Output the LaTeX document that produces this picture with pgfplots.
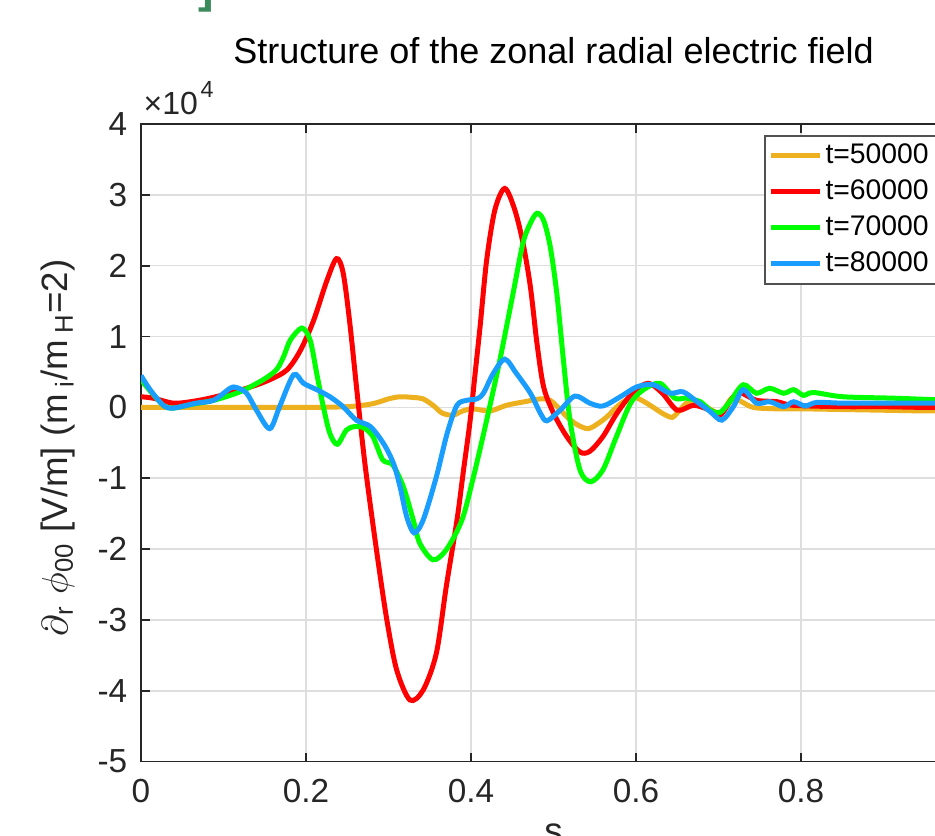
\documentclass[border=0pt]{standalone}
\usepackage{fontspec}
\setmainfont{Liberation Sans}
\usepackage{pgfplots}
\pgfplotsset{compat=1.18}
\definecolor{cOrange}{RGB}{237,177,32}
\definecolor{cRed}{RGB}{255,0,0}
\definecolor{cGreen}{RGB}{0,255,0}
\definecolor{cBlue}{RGB}{25,158,255}
\definecolor{cAxis}{RGB}{38,38,38}
\definecolor{cGrid}{RGB}{222,222,222}
\definecolor{cHead}{RGB}{58,138,92}
\begin{document}
\begin{tikzpicture}
\useasboundingbox (0,0) rectangle (280.5pt,250.8pt);
\clip (0,0) rectangle (280.5pt,250.8pt);
\begin{axis}[
  at={(42.3pt,22.3pt)}, anchor=south west,
  scale only axis, width=247.5pt, height=191.3pt,
  xmin=0, xmax=1, ymin=-5, ymax=4,
  xtick={0,0.2,0.4,0.6,0.8,1},
  xticklabels={0,0.2,0.4,0.6,0.8,1},
  ytick={-5,-4,-3,-2,-1,0,1,2,3,4},
  yticklabels={-5,-4,-3,-2,-1,0,1,2,3,4},
  tick label style={font=\fontsize{10}{12}\selectfont, text=cAxis},
  xticklabel style={yshift=-1.6pt},
  yticklabel style={xshift=-0.6pt},
  grid=major,
  major grid style={cGrid, line width=0.45pt},
  axis line style={cAxis, line width=0.5pt},
  tick style={cAxis, line width=0.5pt},
  major tick length=2.7pt,
  title={Structure of the zonal radial electric field},
  title style={at={(axis description cs:0.5,1)}, anchor=base, yshift=12pt, font=\fontsize{10.8}{13}\selectfont},
  ylabel={$\partial$\textsubscript{r}\;$\phi$\textsubscript{00} [V/m] (m\,\textsubscript{i}/m\,\textsubscript{H}=2)},
  ylabel style={at={(axis description cs:-0.1006,0.492)}, anchor=center, font=\fontsize{11}{13}\selectfont, text=cAxis},
  xlabel={s},
  xlabel style={at={(axis description cs:0.5,0)}, anchor=base, yshift=-24.6pt, font=\fontsize{11}{13}\selectfont, text=cAxis},
  legend style={at={(axis description cs:0.7552,0.9828)}, anchor=north west,
    draw=cAxis!80, line width=0.5pt, fill=white,
    font=\fontsize{8.5}{10}\selectfont, inner sep=1pt, row sep=0.8pt,
    nodes={inner sep=1pt, text height=6.3pt, text depth=1.7pt}},
  legend cell align=left,
  legend image code/.code={\draw[#1, line width=1.5pt] (0pt,0pt) -- (14.7pt,0pt);},
  every axis plot/.append style={line width=1.5pt, smooth, tension=0.5},
]
\addplot[cOrange] coordinates {
(0,0) (0.05,0) (0.1,0) (0.15,0) (0.2,0) (0.25,0.01) (0.28,0.05) (0.3,0.12) (0.314,0.15) (0.33,0.14) (0.342,0.12) (0.355,0.02) (0.365,-0.08) (0.378,-0.11) (0.39,-0.05) (0.402,-0.02) (0.423,-0.05) (0.443,0.03) (0.465,0.08) (0.484,0.12) (0.496,0.1) (0.508,-0.03) (0.516,-0.13) (0.528,-0.24) (0.542,-0.3) (0.555,-0.22) (0.565,-0.13) (0.578,0.02) (0.589,0.11) (0.599,0.14) (0.61,0.08) (0.621,0) (0.633,-0.09) (0.644,-0.14) (0.653,-0.04) (0.663,0.07) (0.681,0.03) (0.702,-0.08) (0.716,0.13) (0.728,0.08) (0.742,0) (0.77,-0.02) (0.8,-0.02) (0.85,-0.03) (0.9,-0.04) (0.95,-0.05) (1.0,-0.05)
};
\addlegendentry{t=50000}
\addplot[cRed] coordinates {
(0,0.15) (0.015,0.13) (0.039,0.06) (0.06,0.08) (0.087,0.14) (0.128,0.27) (0.156,0.39) (0.177,0.53) (0.193,0.8) (0.209,1.22) (0.225,1.78) (0.237,2.1) (0.245,1.9) (0.253,1.2) (0.262,0.2) (0.272,-0.85) (0.286,-2.06) (0.298,-3.0) (0.31,-3.71) (0.326,-4.13) (0.342,-3.99) (0.358,-3.47) (0.37,-2.53) (0.383,-1.59) (0.391,-0.88) (0.399,-0.18) (0.405,0.48) (0.411,1.14) (0.419,2.08) (0.429,2.79) (0.441,3.09) (0.453,2.79) (0.463,2.32) (0.472,1.7) (0.48,0.9) (0.488,0.29) (0.5,-0.08) (0.516,-0.41) (0.532,-0.63) (0.544,-0.62) (0.56,-0.41) (0.577,-0.08) (0.597,0.22) (0.615,0.34) (0.632,0.2) (0.65,-0.04) (0.67,0.03) (0.69,-0.04) (0.702,-0.11) (0.718,0.15) (0.728,0.2) (0.746,0.1) (0.771,0.08) (0.79,0.03) (0.85,0.01) (0.9,0.01) (0.95,0.0) (1,0)
};
\addlegendentry{t=60000}
\addplot[cGreen] coordinates {
(0,0.39) (0.012,0.22) (0.027,0.03) (0.039,-0.01) (0.06,0.04) (0.088,0.1) (0.12,0.22) (0.148,0.39) (0.164,0.53) (0.173,0.72) (0.181,0.95) (0.195,1.12) (0.205,0.95) (0.213,0.48) (0.221,0.01) (0.229,-0.37) (0.238,-0.52) (0.249,-0.32) (0.259,-0.27) (0.27,-0.29) (0.281,-0.41) (0.293,-0.74) (0.305,-0.81) (0.318,-1.12) (0.33,-1.59) (0.338,-1.92) (0.354,-2.15) (0.37,-2.01) (0.389,-1.59) (0.403,-0.98) (0.419,-0.18) (0.435,0.67) (0.451,1.61) (0.463,2.32) (0.472,2.6) (0.48,2.74) (0.488,2.64) (0.496,2.27) (0.504,1.61) (0.512,0.67) (0.52,-0.18) (0.532,-0.88) (0.545,-1.05) (0.56,-0.88) (0.575,-0.45) (0.593,0.05) (0.609,0.25) (0.629,0.34) (0.647,0.13) (0.661,0.13) (0.678,0.08) (0.69,-0.04) (0.702,-0.07) (0.715,0.1) (0.73,0.32) (0.746,0.2) (0.762,0.27) (0.779,0.2) (0.791,0.25) (0.803,0.17) (0.815,0.21) (0.851,0.15) (0.912,0.13) (0.96,0.11) (1,0.1)
};
\addlegendentry{t=70000}
\addplot[cBlue] coordinates {
(0,0.45) (0.011,0.25) (0.027,0.03) (0.039,-0.01) (0.067,0.06) (0.088,0.1) (0.108,0.27) (0.116,0.28) (0.128,0.2) (0.14,-0.04) (0.156,-0.3) (0.168,0.01) (0.185,0.46) (0.197,0.34) (0.213,0.25) (0.229,0.15) (0.245,0.01) (0.261,-0.18) (0.278,-0.27) (0.294,-0.51) (0.306,-0.79) (0.314,-1.12) (0.322,-1.54) (0.331,-1.77) (0.342,-1.59) (0.358,-0.98) (0.371,-0.37) (0.383,0.03) (0.395,0.1) (0.407,0.12) (0.415,0.2) (0.427,0.48) (0.441,0.68) (0.455,0.48) (0.472,0.2) (0.484,-0.08) (0.492,-0.19) (0.508,-0.04) (0.526,0.16) (0.544,0.06) (0.56,0.02) (0.581,0.15) (0.601,0.29) (0.621,0.32) (0.641,0.2) (0.657,0.22) (0.674,0.08) (0.69,-0.06) (0.704,-0.18) (0.718,0.01) (0.73,0.25) (0.746,0.06) (0.762,0.08) (0.779,0.01) (0.791,0.08) (0.805,0.02) (0.819,0.07) (0.85,0.06) (0.9,0.06) (0.96,0.06) (1,0.06)
};
\addlegendentry{t=80000}
\end{axis}
\node[anchor=base west, inner sep=0pt, text=cAxis, font=\fontsize{9.6}{11}\selectfont] at (42.9pt,216.3pt) {×10\kern0.8pt\raisebox{5.1pt}{\fontsize{7}{8}\selectfont 4}};
\node[anchor=base east, inner sep=0pt, text=cHead, font=\fontsize{14}{16}\selectfont\bfseries] at (64.5pt,250.1pt) {]};
\end{tikzpicture}
\end{document}
